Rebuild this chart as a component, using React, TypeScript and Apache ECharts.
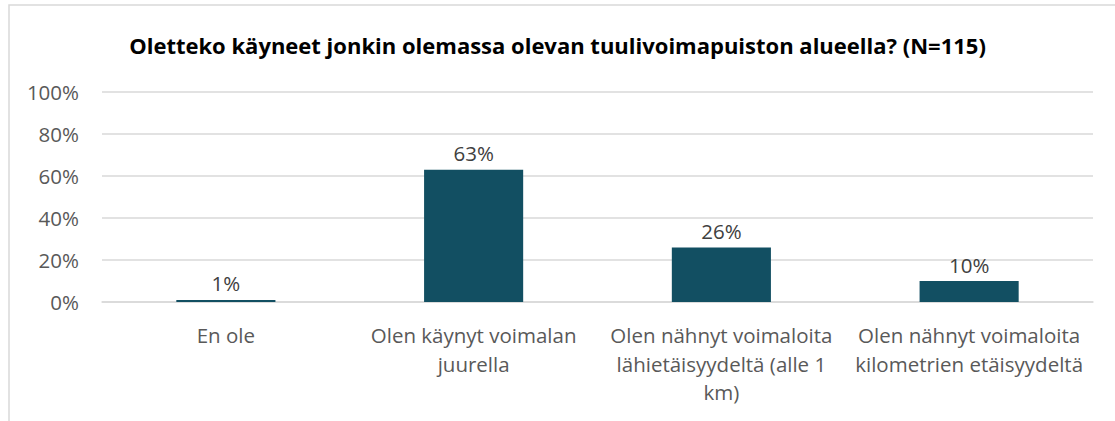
import React, { useEffect, useRef } from "react";
import * as echarts from "echarts";

const categories = [
  "En ole",
  "Olen käynyt voimalan\njuurella",
  "Olen nähnyt voimaloita\nlähietäisyydeltä (alle 1\nkm)",
  "Olen nähnyt voimaloita\nkilometrien etäisyydeltä",
];
const values = [1, 63, 26, 10];
const yTicks = [0, 20, 40, 60, 80, 100];
const title = "Oletteko käyneet jonkin olemassa olevan tuulivoimapuiston alueella? (N=115)";

export default function App() {
  const ref = useRef<HTMLDivElement>(null);
  useEffect(() => {
    const chart = echarts.init(ref.current!, null, { renderer: "svg" });
    const font = "'Open Sans', 'Noto Sans', sans-serif";
    chart.setOption({
      animation: false,
      backgroundColor: "#ffffff",
      title: {
        text: title,
        left: "center",
        top: 29,
        textStyle: { fontFamily: font, fontSize: 22, fontWeight: "bold", color: "#000000" },
      },
      graphic: [
        {
          type: "rect",
          shape: { x: 9, y: 5, width: 1300, height: 600 },
          style: { fill: "none", stroke: "#d9d9d9", lineWidth: 1.5 },
          silent: true,
        },
      ],
      grid: { left: 102, right: 22, top: 92, bottom: 119 },
      xAxis: {
        type: "category",
        data: categories,
        axisTick: { show: false },
        axisLine: { show: true, lineStyle: { color: "#d9d9d9", width: 1.5 } },
        axisLabel: {
          interval: 0,
          margin: 19,
          color: "#595959",
          fontFamily: font,
          fontSize: 20.5,
          lineHeight: 28.5,
        },
      },
      yAxis: {
        type: "value",
        min: yTicks[0],
        max: yTicks[yTicks.length - 1],
        interval: 20,
        axisLine: { show: false },
        axisTick: { show: false },
        splitLine: { lineStyle: { color: "#d9d9d9", width: 1.5 } },
        axisLabel: {
          formatter: "{value}%",
          margin: 23,
          color: "#595959",
          fontFamily: font,
          fontSize: 20.5,
        },
      },
      series: [
        {
          type: "bar",
          data: values,
          barWidth: "40%",
          itemStyle: { color: "#124F62" },
          label: {
            show: true,
            position: "top",
            distance: 6,
            formatter: "{c}%",
            color: "#404040",
            fontFamily: font,
            fontSize: 20.5,
          },
        },
      ],
    });
    return () => chart.dispose();
  }, []);
  return (
    <div
      ref={ref}
      style={{ position: "fixed", left: 0, top: 0, width: 1115, height: 421 }}
    />
  );
}
